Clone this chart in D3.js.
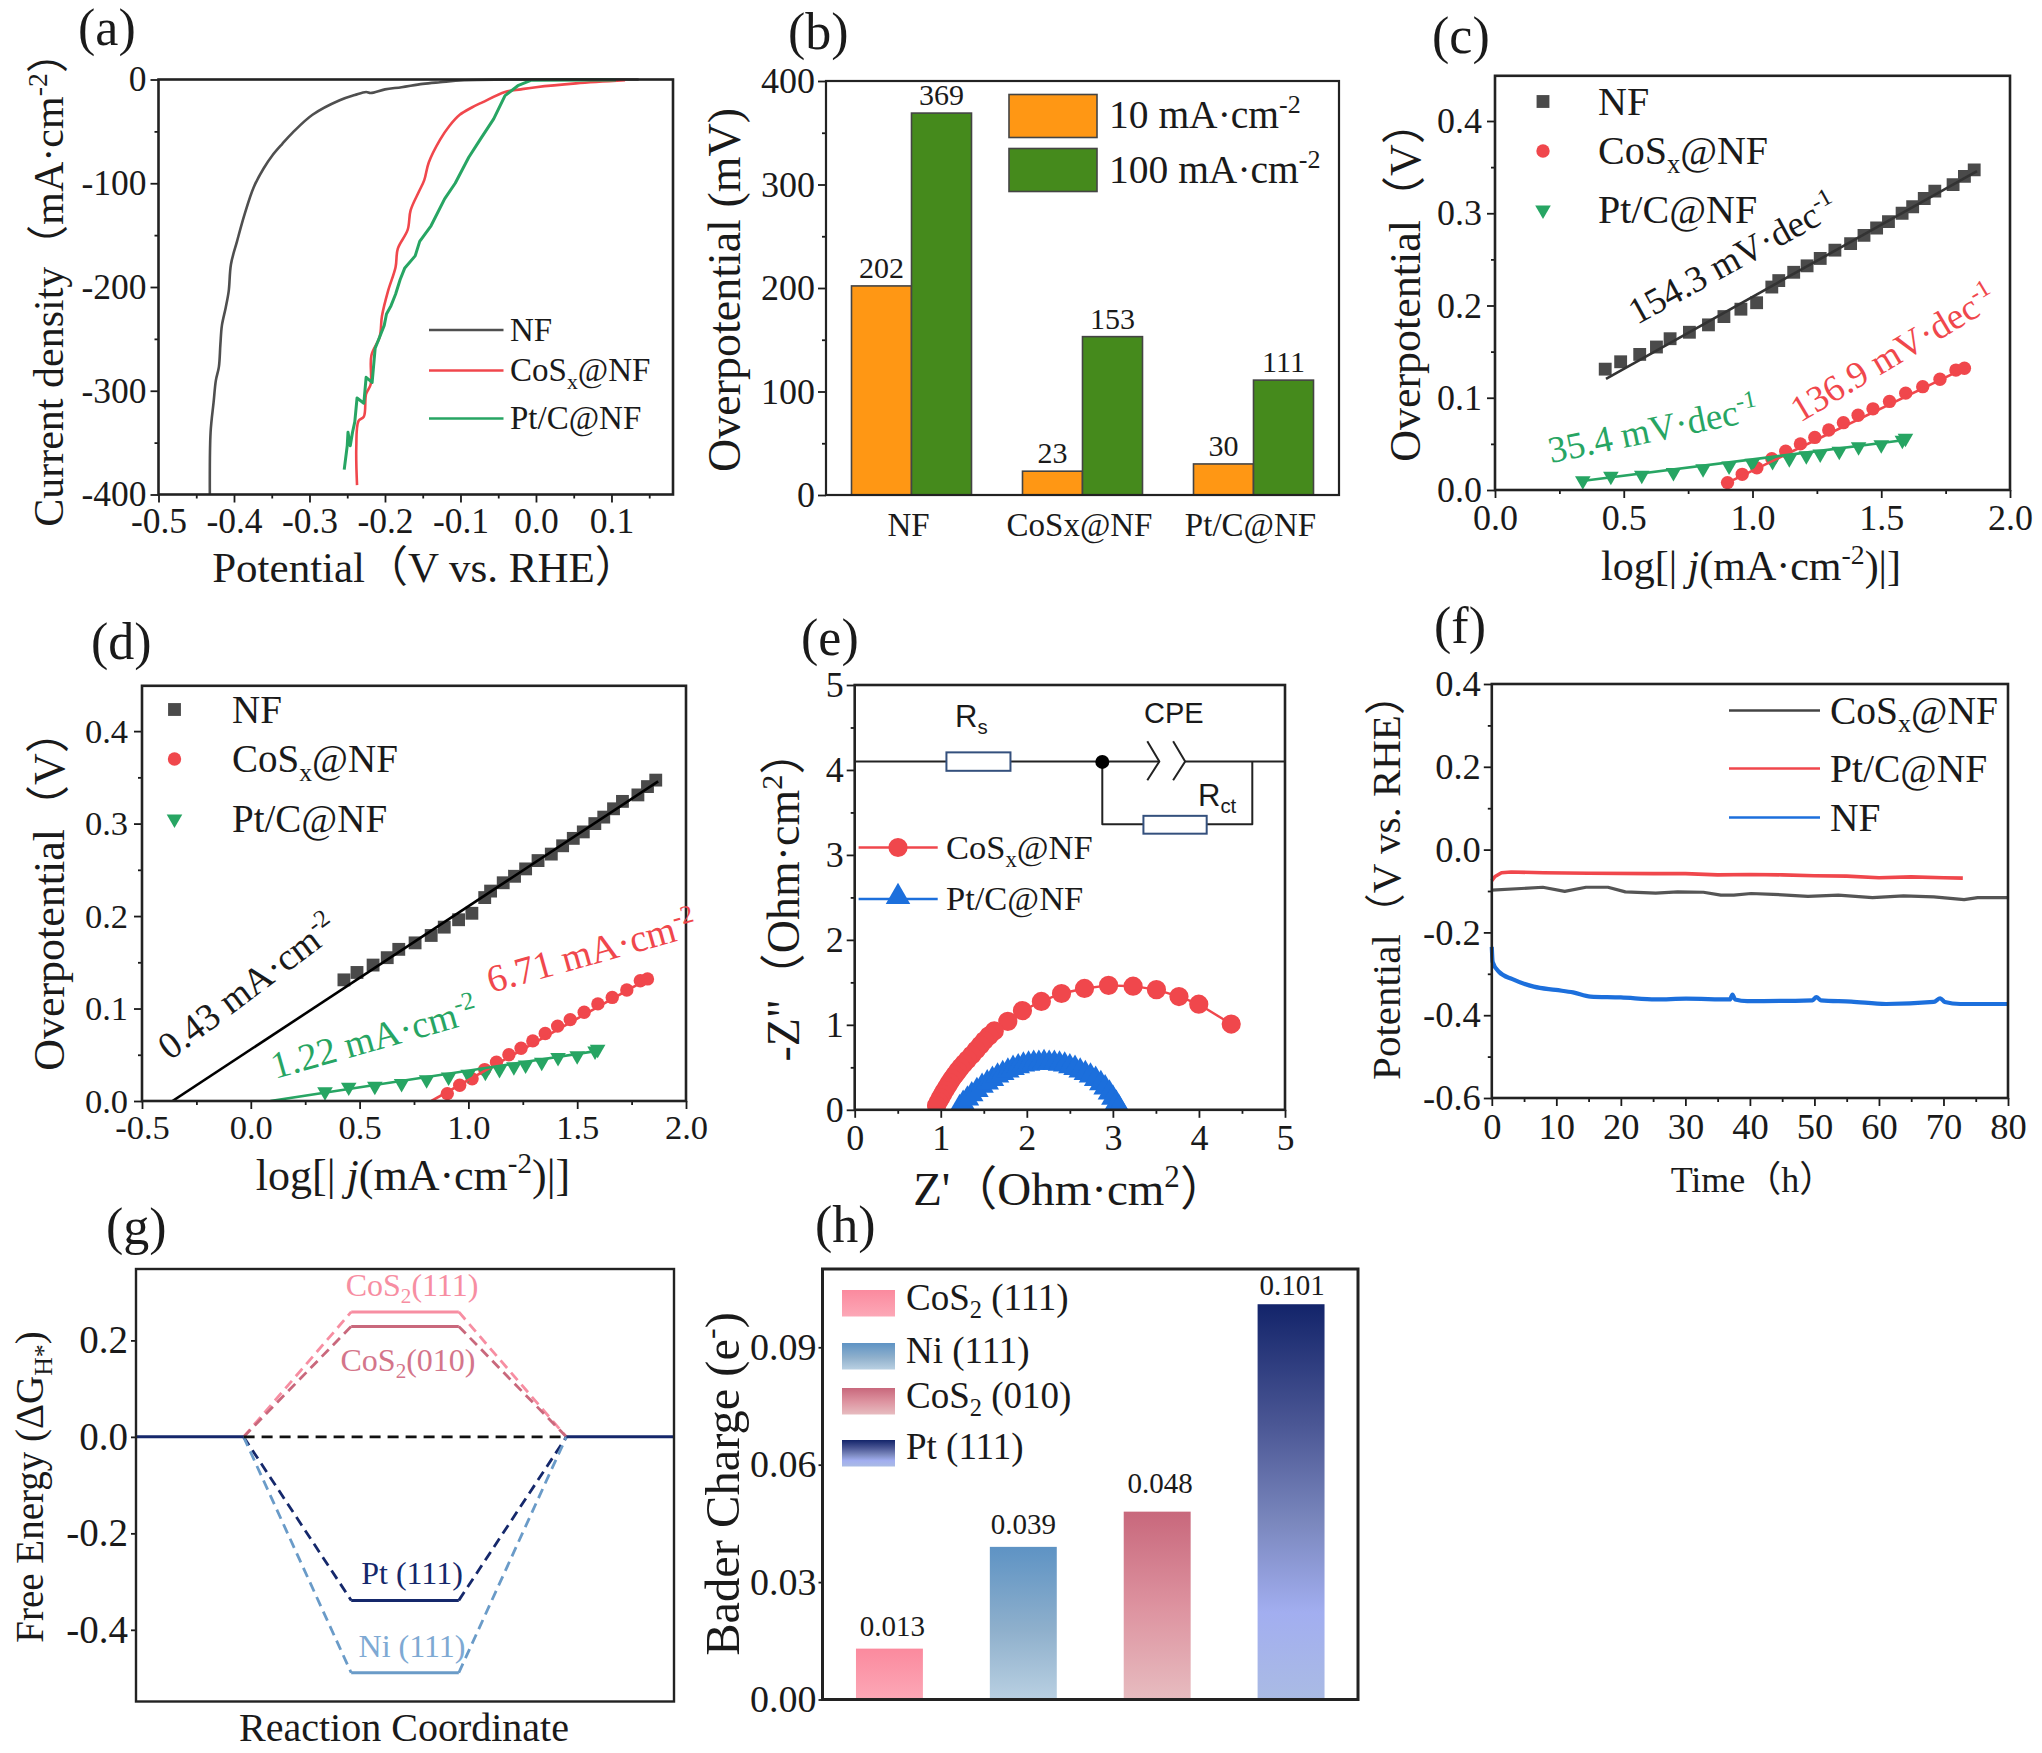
<!DOCTYPE html>
<html><head><meta charset="utf-8">
<script src="https://cdn.jsdelivr.net/npm/d3@7"></script>
<style>
html,body{margin:0;padding:0;background:#fff}
svg{display:block}
text{font-family:"Liberation Serif","Noto Sans CJK SC",serif;fill:#1a1a1a}
.sans{font-family:"Liberation Sans",sans-serif}
</style></head><body>
<svg id="c" width="2042" height="1753"></svg>
<script>
// ---------- data ----------
const lsvNF=[[-0.432,-400],[-0.431,-340],[-0.427,-311],[-0.424,-290],[-0.420,-277],[-0.418,-255],[-0.416,-237],[-0.411,-220],[-0.407,-204],[-0.404,-178],[-0.396,-156],[-0.386,-130],[-0.374,-104],[-0.361,-86],[-0.349,-73],[-0.336,-62],[-0.322,-51],[-0.296,-34],[-0.260,-20],[-0.240,-15],[-0.225,-12],[-0.219,-13],[-0.200,-9.5],[-0.178,-7.4],[-0.150,-4.2],[-0.127,-2.6],[-0.095,-0.7],[0.136,0]];
const lsvCoS=[[-0.237,-391],[-0.238,-355],[-0.235,-329],[-0.228,-325],[-0.225,-303],[-0.219,-294],[-0.218,-266],[-0.207,-248],[-0.204,-228],[-0.196,-204],[-0.186,-181],[-0.183,-163],[-0.170,-145],[-0.166,-126],[-0.155,-108],[-0.148,-97],[-0.142,-80],[-0.127,-58],[-0.115,-45],[-0.101,-34],[-0.085,-27],[-0.071,-22],[-0.041,-12],[-0.020,-9.5],[0,-7.4],[0.053,-3.7],[0.118,-0.7]];
const lsvPt=[[-0.254,-376],[-0.250,-353],[-0.249,-340],[-0.246,-353],[-0.243,-340],[-0.240,-330],[-0.237,-307],[-0.228,-312],[-0.225,-287],[-0.217,-292],[-0.213,-259],[-0.201,-237],[-0.198,-226],[-0.192,-218],[-0.186,-207],[-0.180,-193],[-0.174,-182],[-0.160,-170],[-0.154,-156],[-0.139,-141],[-0.121,-115],[-0.107,-100],[-0.089,-75],[-0.074,-58],[-0.056,-38],[-0.041,-15.5],[-0.024,-6],[-0.006,-0.7],[0.106,-0.4]];
const barCats=["NF","CoSx@NF","Pt/C@NF"];
const bar10=[202,23,30];
const bar100=[369,153,111];
const tafelNF=[[0.428,0.131],[0.488,0.139],[0.562,0.147],[0.627,0.155],[0.680,0.164],[0.755,0.171],[0.829,0.179],[0.889,0.188],[0.955,0.196],[1.016,0.203],[1.075,0.220],[1.102,0.227],[1.160,0.236],[1.212,0.243],[1.263,0.251],[1.320,0.260],[1.381,0.267],[1.433,0.276],[1.482,0.284],[1.528,0.291],[1.581,0.300],[1.622,0.307],[1.667,0.316],[1.708,0.324],[1.779,0.331],[1.823,0.340],[1.861,0.347]];
const tafelCoS=[[0.903,0.008],[0.960,0.017],[1.017,0.024],[1.075,0.034],[1.129,0.042],[1.186,0.050],[1.242,0.057],[1.296,0.065],[1.353,0.073],[1.410,0.081],[1.468,0.088],[1.532,0.096],[1.595,0.105],[1.661,0.112],[1.728,0.120],[1.790,0.130],[1.823,0.132]];
const tafelPt=[[0.341,0.010],[0.450,0.015],[0.570,0.016],[0.693,0.019],[0.808,0.023],[0.909,0.026],[0.999,0.029],[1.078,0.031],[1.143,0.034],[1.209,0.037],[1.263,0.039],[1.337,0.042],[1.412,0.047],[1.500,0.049],[1.582,0.054],[1.594,0.056]];
const fitNFc=[[0.431,0.1205],[1.872,0.3456]];
const fitCoSc=[[0.90,0.0075],[1.83,0.133]];
const fitPtc=[[0.33,0.0095],[1.60,0.0545]];
const fitNFd=[[-0.36,0],[1.872,0.3456]];
const fitCoSd=[[0.83,0],[1.83,0.133]];
const fitPtd=[[0.09,0],[1.60,0.0545]];
const nyqCoS=[[4.375,1.009],[3.998,1.243],[3.768,1.333],[3.506,1.414],[3.235,1.455],[2.950,1.464],[2.670,1.428],[2.403,1.369],[2.169,1.275],[1.949,1.167],[1.779,1.041],[1.622,0.928],[1.560,0.870],[1.507,0.815],[1.460,0.760],[1.411,0.703],[1.360,0.645],[1.310,0.590],[1.270,0.545],[1.232,0.500],[1.197,0.455],[1.163,0.410],[1.132,0.365],[1.103,0.320],[1.075,0.275],[1.048,0.230],[1.022,0.185],[0.997,0.140],[0.973,0.095],[0.951,0.050]];
const nyqPt=[[1.22,0.03],[1.26,0.08],[1.31,0.13],[1.36,0.18],[1.42,0.23],[1.48,0.28],[1.54,0.32],[1.60,0.36],[1.66,0.40],[1.72,0.43],[1.78,0.46],[1.84,0.49],[1.90,0.51],[1.96,0.53],[2.02,0.54],[2.08,0.55],[2.14,0.55],[2.20,0.56],[2.26,0.55],[2.32,0.55],[2.38,0.54],[2.44,0.53],[2.50,0.51],[2.56,0.49],[2.62,0.46],[2.68,0.43],[2.74,0.40],[2.80,0.36],[2.86,0.31],[2.91,0.26],[2.96,0.20],[3.00,0.14],[3.04,0.08],[3.07,0.03]];
const stabPt=[[0,-0.075],[0.5,-0.065],[1.5,-0.056],[3,-0.054],[8,-0.056],[15,-0.057],[25,-0.058],[30,-0.058],[35,-0.061],[40,-0.060],[45,-0.061],[50,-0.063],[55,-0.064],[60,-0.068],[65,-0.066],[70,-0.068],[73,-0.069]];
const stabCoS=[[0,-0.098],[7.9,-0.091],[11.3,-0.101],[14.6,-0.091],[18,-0.091],[20.7,-0.102],[25.4,-0.105],[28.8,-0.102],[32.8,-0.103],[35.5,-0.11],[37.5,-0.11],[40.2,-0.106],[43.6,-0.108],[49,-0.113],[53.7,-0.11],[59,-0.116],[63.8,-0.112],[68.5,-0.114],[73.2,-0.121],[75.3,-0.116],[80,-0.116]];
const stabNF=[[0,-0.235],[0.13,-0.271],[1.1,-0.295],[3.2,-0.313],[6.5,-0.331],[9.9,-0.339],[12.6,-0.345],[15.3,-0.355],[20,-0.357],[25.4,-0.362],[30.1,-0.360],[36.9,-0.362],[37.3,-0.350],[37.7,-0.362],[39.6,-0.366],[49.7,-0.364],[50.3,-0.356],[51,-0.364],[55.7,-0.367],[61.1,-0.373],[68.5,-0.368],[69.5,-0.359],[70.2,-0.368],[72.6,-0.373],[80,-0.373]];
const freeNames=["CoS_{2}(111)","CoS_{2}(010)","Pt (111)","Ni (111)"];
const freeValues=[0.259,0.229,-0.339,-0.489];
const baderNames=["CoS_{2} (111)","Ni (111)","CoS_{2} (010)","Pt (111)"];
const baderValues=[0.013,0.039,0.048,0.101];

// ---------- helpers ----------
const svg=d3.select("#c");
const INK="#1a1a1a";
const GRAY="#4f4f4f",RED="#f0474c",GREEN="#27a563",BLUE="#1c6fdc";
function rich(t,str,size){
  t.attr("font-size",size);
  const parts=str.split(/(\^\{[^}]*\}|_\{[^}]*\}|\*\{[^}]*\})/).filter(s=>s!=="");
  let off=0;
  parts.forEach(p=>{
    const m=p.match(/^([\^_*])\{(.*)\}$/);
    const kind=m?m[1]:"";
    const txt=m?m[2]:p;
    const target=kind==="^"?-0.38*size:kind==="_"?0.22*size:0;
    const ts=t.append("tspan").text(txt).attr("dy",target-off);
    off=target;
    if(kind==="^"||kind==="_")ts.attr("font-size",size*0.66);
    if(kind==="*")ts.attr("font-style","italic");
  });
  return t;
}
function label(x,y,str,size,opt={}){
  const t=svg.append("text").attr("transform",`translate(${x},${y}) rotate(${opt.rot||0})`)
    .attr("text-anchor",opt.anchor||"start").style("fill",opt.fill||INK);
  if(opt.cls)t.attr("class",opt.cls);
  return rich(t,str,size);
}
const fmt=d=>d3.format(".1f")(d).replace("\u2212","-");
function frame(f,name){
  const clipId="clip"+name;
  svg.append("clipPath").attr("id",clipId).append("rect").attr("x",f.l).attr("y",f.t).attr("width",f.r-f.l).attr("height",f.b-f.t);
  return {clipId};
}
function drawAxes(f,x,y,o){
  const g=svg.append("g");
  if(x){
    const ax=g.append("g").attr("transform",`translate(0,${f.b})`);
    if(o.xMinor)ax.append("g").call(d3.axisBottom(x).tickValues(o.xMinor).tickSize(4).tickFormat(""));
    ax.append("g").call(d3.axisBottom(x).tickValues(o.xTicks).tickSize(8).tickPadding(o.xPad||10).tickFormat(o.xFmt||fmt));
    ax.selectAll("text").attr("font-size",o.size||33).style("fill",INK);
  }
  const ay=g.append("g").attr("transform",`translate(${f.l},0)`);
  if(o.yMinor)ay.append("g").call(d3.axisLeft(y).tickValues(o.yMinor).tickSize(4).tickFormat(""));
  ay.append("g").call(d3.axisLeft(y).tickValues(o.yTicks).tickSize(o.yTick===undefined?8:o.yTick).tickPadding(o.yPad||3).tickFormat(o.yFmt||fmt));
  ay.selectAll("text").attr("font-size",o.size||33).style("fill",INK);
  g.selectAll(".domain").remove();
  g.selectAll("line").attr("stroke",INK).attr("stroke-width",1.8);
  svg.append("rect").attr("x",f.l).attr("y",f.t).attr("width",f.r-f.l).attr("height",f.b-f.t)
    .attr("fill","none").attr("stroke",o.frame||"#222").attr("stroke-width",o.fw||2.6);
}
function linePath(g,data,x,y,color,w,clip,curve){
  const gen=d3.line().x(d=>x(d[0])).y(d=>y(d[1]));
  if(curve)gen.curve(curve);
  const p=g.append("path").datum(data).attr("fill","none").attr("stroke",color).attr("stroke-width",w)
    .attr("stroke-linejoin","round").attr("d",gen);
  if(clip)p.attr("clip-path",`url(#${clip})`);
  return p;
}
function markers(g,data,x,y,type,size,color,rot,clip){
  const gg=g.append("g");
  if(clip)gg.attr("clip-path",`url(#${clip})`);
  gg.selectAll("path").data(data).join("path")
    .attr("d",d3.symbol().type(type).size(size)())
    .attr("fill",color)
    .attr("transform",d=>`translate(${x(d[0])},${y(d[1])}) rotate(${rot||0})`);
}
function legendLine(x1,x2,yy,color,w,txt,tx,size){
  svg.append("line").attr("x1",x1).attr("x2",x2).attr("y1",yy).attr("y2",yy).attr("stroke",color).attr("stroke-width",w);
  label(tx,yy+size*0.33,txt,size);
}

// ---------- panel letters ----------
[["(a)",78,45],["(b)",788,49],["(c)",1432,53],["(d)",91,659],["(e)",801,655],["(f)",1434,643],["(g)",106,1244],["(h)",815,1242]]
  .forEach(d=>label(d[1],d[2],d[0],52));

// ---------- (a) ----------
{
  const f={l:158.5,r:673,t:79.5,b:494.5};
  const x=d3.scaleLinear([-0.5,0.1815],[f.l,f.r]),y=d3.scaleLinear([-400,0],[f.b,f.t]);
  const g=svg.append("g");
  linePath(g,lsvNF,x,y,GRAY,2.6,null,d3.curveCatmullRom.alpha(0.5));
  linePath(g,lsvCoS,x,y,RED,2.6,null,d3.curveCatmullRom.alpha(0.5));
  linePath(g,lsvPt,x,y,GREEN,3,null);
  drawAxes(f,x,y,{xTicks:[-0.5,-0.4,-0.3,-0.2,-0.1,0,0.1],xMinor:[-0.45,-0.35,-0.25,-0.15,-0.05,0.05,0.15],yTicks:[-400,-300,-200,-100,0],yMinor:[-350,-250,-150,-50],
    yFmt:d=>String(d),size:35.5,xPad:5,yPad:4});
  legendLine(429,503.5,330,GRAY,2.6,"NF",510,33);
  legendLine(429,503.5,370.5,RED,2.6,"CoS_{x}@NF",510,33);
  legendLine(429,503.5,418.5,GREEN,2.6,"Pt/C@NF",510,33);
  label(63,279,"Current density（mA·cm^{-2}）",42,{rot:-90,anchor:"middle"});
  label(425,582,"Potential（V vs. RHE）",43,{anchor:"middle"});
}
// ---------- (b) ----------
{
  const f={l:826,r:1339,t:81,b:495};
  const x=d3.scaleBand(barCats,[f.l,f.r]),y=d3.scaleLinear([0,400],[f.b,f.t]);
  const inner=d3.scaleBand(["a","b"],[0,120]);
  const g=svg.append("g");
  const c0=d=>x(d)+x.bandwidth()/2-60;
  [[bar10,"a","#ff9714"],[bar100,"b","#458a1c"]].forEach(([vals,k,col])=>{
    const gg=g.append("g");
    gg.selectAll("rect").data(barCats).join("rect")
      .attr("x",d=>c0(d)+inner(k)).attr("width",inner.bandwidth())
      .attr("y",(d,i)=>y(vals[i])).attr("height",(d,i)=>y(0)-y(vals[i]))
      .attr("fill",col).attr("stroke","#444").attr("stroke-width",1.6);
    gg.selectAll("text").data(barCats).join("text")
      .attr("x",d=>c0(d)+inner(k)+inner.bandwidth()/2).attr("y",(d,i)=>y(vals[i])-8)
      .attr("text-anchor","middle").attr("font-size",30).text((d,i)=>vals[i]);
  });
  drawAxes(f,null,y,{yTicks:[0,100,200,300,400],yMinor:[50,150,250,350],yFmt:d=>String(d),size:36,fw:2.2});
  barCats.forEach((c,i)=>label(x(c)+x.bandwidth()/2-3,536,c,33,{anchor:"middle"}));
  [[94.5,"#ff9714","10 mA·cm^{-2}",128],[148.5,"#458a1c","100 mA·cm^{-2}",183]].forEach(d=>{
    svg.append("rect").attr("x",1009).attr("y",d[0]).attr("width",88).attr("height",43).attr("fill",d[1]).attr("stroke","#444").attr("stroke-width",1.6);
    label(1109,d[3],d[2],39.5);
  });
  label(740,290,"Overpotential (mV)",46,{rot:-90,anchor:"middle"});
}
// ---------- (c),(d) ----------
function tafel(f,xd,xTicks,xMinor,fits,fw,legend,name,lsize,tsize,ypad){
  const x=d3.scaleLinear(xd,[f.l,f.r]),y=d3.scaleLinear([0,0.449],[f.b,f.t]);
  const fr=frame(f,name),g=svg.append("g");
  markers(g,tafelNF,x,y,d3.symbolSquare,165,"#4a4a4a",0,fr.clipId);
  markers(g,tafelCoS,x,y,d3.symbolCircle,140,RED,0,fr.clipId);
  markers(g,tafelPt,x,y,d3.symbolTriangle,105,GREEN,180,fr.clipId);
  linePath(g,fits[0],x,y,fw,2.6,fr.clipId);
  linePath(g,fits[1],x,y,RED,2.6,fr.clipId);
  linePath(g,fits[2],x,y,GREEN,2.6,fr.clipId);
  drawAxes(f,x,y,{xTicks,xMinor,yTicks:[0,0.1,0.2,0.3,0.4],yMinor:[0.05,0.15,0.25,0.35],size:tsize,xPad:6,yPad:ypad});
  const ids=[[d3.symbolSquare,165,"#4a4a4a",0,"NF"],[d3.symbolCircle,140,RED,0,"CoS_{x}@NF"],[d3.symbolTriangle,105,GREEN,180,"Pt/C@NF"]];
  ids.forEach((d,i)=>{
    svg.append("path").attr("d",d3.symbol().type(d[0]).size(d[1])()).attr("fill",d[2])
      .attr("transform",`translate(${legend.mx},${legend.ys[i]}) rotate(${d[3]})`);
    label(legend.tx,legend.ys[i]+13,d[4],lsize);
  });
}
tafel({l:1495,r:2010,t:75.8,b:490},[0,2],[0,0.5,1,1.5,2],[0.25,0.75,1.25,1.75],[fitNFc,fitCoSc,fitPtc],"#333",{mx:1543,tx:1598,ys:[101.5,151,210]},"c",40,36,5);
label(1637,325,"154.3 mV·dec^{-1}",37,{rot:-28.7});
label(1800,423,"136.9 mV·dec^{-1}",37,{rot:-30.8,fill:RED});
label(1551,463,"35.4 mV·dec^{-1}",37,{rot:-11.7,fill:GREEN});
label(1420,281,"Overpotential（V）",44,{rot:-90,anchor:"middle"});
label(1751,580,"log[| *{j}(mA·cm^{-2})|]",42,{anchor:"middle"});

tafel({l:142,r:686,t:685.8,b:1101},[-0.5,2],[-0.5,0,0.5,1,1.5,2],[-0.25,0.25,0.75,1.25,1.75],[fitNFd,fitCoSd,fitPtd],"#000",{mx:174.5,tx:232,ys:[709.5,759,819]},"d",39,34.5,6);
label(170,1061,"0.43 mA·cm^{-2}",38,{rot:-37});
label(491,993,"6.71 mA·cm^{-2}",38.5,{rot:-15.6,fill:RED});
label(275,1079,"1.22 mA·cm^{-2}",38,{rot:-15.8,fill:GREEN});
label(64,890,"Overpotential（V）",44,{rot:-90,anchor:"middle"});
label(413,1190,"log[| *{j}(mA·cm^{-2})|]",44,{anchor:"middle"});

// ---------- (e) ----------
{
  const f={l:854.7,r:1285,t:685,b:1109.8};
  const x=d3.scaleLinear([0,5],[f.l,f.r]),y=d3.scaleLinear([0,5],[f.b,f.t]);
  const fr=frame(f,"e"),g=svg.append("g");
  linePath(g,nyqCoS,x,y,RED,2.4,fr.clipId);
  markers(g,nyqCoS,x,y,d3.symbolCircle,290,RED,0,fr.clipId);
  linePath(g,nyqPt,x,y,BLUE,2.4,fr.clipId);
  markers(g,nyqPt,x,y,d3.symbolTriangle,240,BLUE,0,fr.clipId);
  drawAxes(f,x,y,{xTicks:[0,1,2,3,4,5],xMinor:[0.5,1.5,2.5,3.5,4.5],yTicks:[0,1,2,3,4,5],yMinor:[0.5,1.5,2.5,3.5,4.5],
    xFmt:d=>String(d),yFmt:d=>String(d),size:36,xPad:7});
  // equivalent circuit, in axis units
  const wires=[[[0,4.1],[3.54,4.1]],[[3.84,4.1],[5,4.1]],[[2.877,4.1],[2.877,3.36],[4.62,3.36],[4.62,4.1]],
    [[3.40,4.338],[3.54,4.1],[3.40,3.878]],[[3.70,4.338],[3.84,4.1],[3.70,3.878]]];
  wires.forEach(w=>linePath(svg,w,x,y,"#222",2));
  [[1.066,1.81,4.207,3.99],[3.355,4.09,3.46,3.25]].forEach(r=>{
    svg.append("rect").attr("x",x(r[0])).attr("width",x(r[1])-x(r[0])).attr("y",y(r[2])).attr("height",y(r[3])-y(r[2]))
      .attr("fill","#fff").attr("stroke","#34507d").attr("stroke-width",2);
  });
  svg.append("circle").attr("cx",x(2.877)).attr("cy",y(4.095)).attr("r",7).attr("fill","#000");
  label(955,727,"R_{s}",31,{cls:"sans"});
  label(1144,723,"CPE",29,{cls:"sans"});
  label(1198,806,"R_{ct}",31,{cls:"sans"});
  svg.append("line").attr("x1",858.6).attr("x2",937.7).attr("y1",847.5).attr("y2",847.5).attr("stroke",RED).attr("stroke-width",2.6);
  svg.append("path").attr("d",d3.symbol().type(d3.symbolCircle).size(290)()).attr("fill",RED).attr("transform","translate(898,847.5)");
  label(946,859,"CoS_{x}@NF",34.5);
  svg.append("line").attr("x1",858.6).attr("x2",937.7).attr("y1",899).attr("y2",899).attr("stroke",BLUE).attr("stroke-width",2.6);
  svg.append("path").attr("d",d3.symbol().type(d3.symbolTriangle).size(260)()).attr("fill",BLUE).attr("transform","translate(898,897)");
  label(946,910,"Pt/C@NF",34.5);
  label(799,895,"-Z\"（Ohm·cm^{2}）",46,{rot:-90,anchor:"middle"});
  label(1070,1205,"Z'（Ohm·cm^{2}）",47,{anchor:"middle"});
}
// ---------- (f) ----------
{
  const f={l:1491.8,r:2008,t:684,b:1098};
  const x=d3.scaleLinear([0,80],[f.l,f.r]),y=d3.scaleLinear([-0.6,0.4],[f.b,f.t]);
  const g=svg.append("g");
  linePath(g,stabCoS,x,y,"#555",3.2);
  linePath(g,stabPt,x,y,RED,3.6);
  linePath(g,stabNF,x,y,BLUE,4.2,null,d3.curveMonotoneX);
  drawAxes(f,x,y,{xTicks:[0,10,20,30,40,50,60,70,80],xMinor:[5,15,25,35,45,55,65,75],yTicks:[-0.6,-0.4,-0.2,0,0.2,0.4],yMinor:[-0.5,-0.3,-0.1,0.1,0.3],xFmt:d=>String(d),size:36.5,xPad:7});
  legendLine(1729,1820,710.5,"#444",2.6,"CoS_{x}@NF",1830,39.5);
  legendLine(1729,1820,768.5,RED,2.6,"Pt/C@NF",1830,39.5);
  legendLine(1729,1820,817.5,BLUE,2.6,"NF",1830,39.5);
  label(1400,877,"Potential（V vs. RHE）",41,{rot:-90,anchor:"middle"});
  label(1753,1192,"Time（h）",36,{anchor:"middle"});
}
// ---------- (g) ----------
{
  const f={l:136,r:674,t:1269,b:1701.5};
  const x=d3.scaleLinear([0,5],[f.l,f.r]),y=d3.scaleLinear([-0.5486,0.348],[f.b,f.t]);
  const g=svg.append("g");
  const cols=["#f78ea2","#c9687c","#15286b","#6a9bc8"];
  const tcols=["#f78ea2","#d4758a","#15286b","#7ea9d3"];
  const dy=[1296,1371,1584,1657];
  freeValues.forEach((v,i)=>{
    linePath(g,[[1,0],[2,v]],x,y,cols[i],2.8).attr("stroke-dasharray","10 6");
    linePath(g,[[3,v],[4,0]],x,y,cols[i],2.8).attr("stroke-dasharray","10 6");
    linePath(g,[[2,v],[3,v]],x,y,cols[i],3);
    label(x(2.5)+(i==1?3:7),dy[i],freeNames[i],32,{anchor:"middle",fill:tcols[i]});
  });
  linePath(g,[[1,0],[4,0]],x,y,"#111",2.8).attr("stroke-dasharray","11 7");
  linePath(g,[[0,0],[1,0]],x,y,"#15286b",3);
  linePath(g,[[4,0],[5,0]],x,y,"#15286b",3);
  drawAxes(f,null,y,{yTicks:[-0.4,-0.2,0,0.2],yFmt:fmt,size:39,yTick:5,fw:2.4});
  label(43,1487,"Free Energy (ΔG_{H*})",39,{rot:-90,anchor:"middle"});
  label(404,1741,"Reaction Coordinate",40,{anchor:"middle"});
}
// ---------- (h) ----------
{
  const f={l:822.5,r:1358,t:1269,b:1699.5};
  const x=d3.scaleBand(baderNames,[f.l,f.r]).paddingInner(0.5).paddingOuter(0.25),y=d3.scaleLinear([0,0.11],[f.b,f.t]);
  const stops=[[["0","#fb8a9e"],["1","#fca8b7"]],[["0","#5e93c4"],["0.55","#8fb0cc"],["1","#b9d0e2"]],[["0","#c8687c"],["0.5","#dd929f"],["1","#e7bcc0"]],[["0","#13246a"],["0.3","#4a5694"],["0.55","#7a87bd"],["0.78","#a2aef0"],["1","#aabbe4"]]];
  const lift=[13,13,19,9],nudge=[3,0,3,1];
  const defs=svg.append("defs");
  stops.forEach((s,i)=>{
    const lg=defs.append("linearGradient").attr("id","hg"+i).attr("x1",0).attr("x2",0).attr("y1",0).attr("y2",1);
    s.forEach(p=>lg.append("stop").attr("offset",p[0]).attr("stop-color",p[1]));
  });
  const g=svg.append("g");
  g.selectAll("rect").data(baderValues).join("rect")
    .attr("x",(d,i)=>x(baderNames[i])).attr("width",x.bandwidth())
    .attr("y",d=>y(d)).attr("height",d=>y(0)-y(d)).attr("fill",(d,i)=>`url(#hg${i})`);
  g.selectAll("text").data(baderValues).join("text")
    .attr("x",(d,i)=>x(baderNames[i])+x.bandwidth()/2+nudge[i]).attr("y",(d,i)=>y(d)-lift[i])
    .attr("text-anchor","middle").attr("font-size",29).text(d=>d3.format(".3f")(d));
  drawAxes(f,null,y,{yTicks:[0,0.03,0.06,0.09],yFmt:d=>d3.format(".2f")(d),size:38,yTick:4,fw:3,yPad:2});
  [[1290,1310],[1343,1363],[1388,1408],[1440,1459]].forEach((d,i)=>{
    svg.append("rect").attr("x",842).attr("y",d[0]).attr("width",53).attr("height",26.5).attr("fill",`url(#hg${i})`);
    label(906,d[1],baderNames[i],37);
  });
  label(739,1484,"Bader Charge (e^{-})",48.5,{rot:-90,anchor:"middle"});
}
</script>
</body></html>
